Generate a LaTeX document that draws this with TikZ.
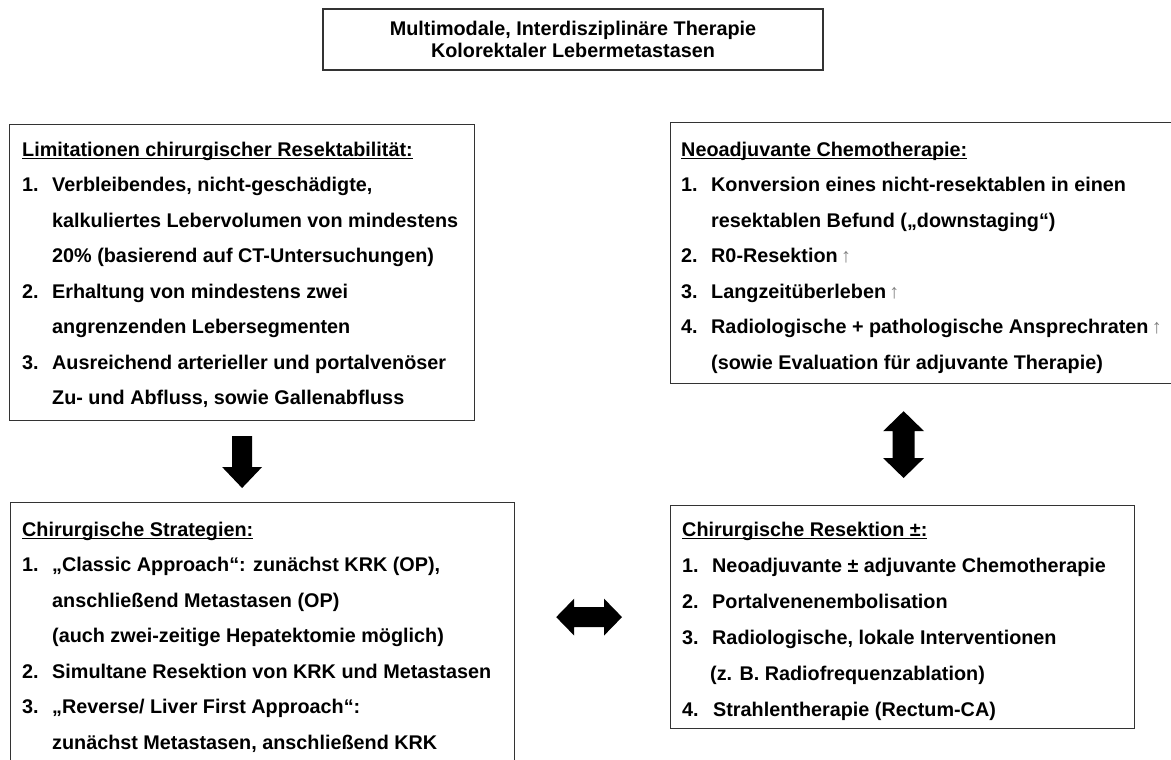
\documentclass[tikz,border=0pt]{standalone}
\usepackage{fontspec}
\setmainfont{Liberation Sans}
\usetikzlibrary{calc}
\newcommand\myul[1]{\setbox0\hbox{#1}\rlap{\rule[-3pt]{\wd0}{1.3pt}}\box0}
\newcommand\numitem[2]{\makebox[30pt][l]{#1}#2}
\newcommand\contitem[1]{\hspace*{30pt}#1}
\newcommand\upar{\,\textcolor{gray}{\mdseries ↑}}
\begin{document}
\begin{tikzpicture}[x=1pt,y=-1pt,
  box/.style={draw=black!80, line width=1.2pt, rectangle, inner sep=0pt, anchor=north west},
  boxtext/.style={anchor=north west, inner sep=0pt, align=left, font=\fontsize{19.8}{35.5}\selectfont\bfseries},
  blockarrow/.style={fill=black}]
\useasboundingbox (0,0) rectangle (1171,760);
\clip (0,0) rectangle (1171,760);

\node[box, anchor=center, minimum width=500, minimum height=61, align=center,
      font=\fontsize{19.8}{22}\selectfont\bfseries] (title) at (573,39.5)
  {Multimodale, Interdisziplinäre Therapie\\Kolorektaler Lebermetastasen};

\node[box, minimum width=465, minimum height=296] (lim) at (9,124) {};
\node[box, minimum width=504, minimum height=261] (neo) at (670,122) {};
\node[box, minimum width=504, minimum height=270] (strat) at (10,502) {};
\node[box, minimum width=464, minimum height=223] (res) at (670,505) {};

\node[boxtext] (limtext) at ($(lim.north west)+(13,16)$) {%
\rule{0pt}{16pt}\myul{Limitationen chirurgischer Resektabilität:}\\
\numitem{1.}{Verbleibendes, nicht-geschädigte,}\\
\contitem{kalkuliertes Lebervolumen von mindestens}\\
\contitem{20\% (basierend auf CT-Untersuchungen)}\\
\numitem{2.}{Erhaltung von mindestens zwei}\\
\contitem{angrenzenden Lebersegmenten}\\
\numitem{3.}{Ausreichend arterieller und portalvenöser}\\
\contitem{Zu- und Abfluss, sowie Gallenabfluss}};

\node[boxtext] (neotext) at ($(neo.north west)+(11,18)$) {%
\rule{0pt}{16pt}\myul{Neoadjuvante Chemotherapie:}\\
\numitem{1.}{Konversion eines nicht-resektablen in einen}\\
\contitem{resektablen Befund („downstaging“)}\\
\numitem{2.}{R0-Resektion\upar}\\
\numitem{3.}{Langzeitüberleben\upar}\\
\numitem{4.}{Radiologische + pathologische Ansprechraten\upar}\\
\contitem{(sowie Evaluation für adjuvante Therapie)}};

\node[boxtext] (strattext) at ($(strat.north west)+(12,18)$) {%
\rule{0pt}{16pt}\myul{Chirurgische Strategien:}\\
\numitem{1.}{„Classic Approach“: zunächst KRK (OP),}\\
\contitem{anschließend Metastasen (OP)}\\
\contitem{(auch zwei-zeitige Hepatektomie möglich)}\\
\numitem{2.}{Simultane Resektion von KRK und Metastasen}\\
\numitem{3.}{„Reverse/ Liver First Approach“:}\\
\contitem{zunächst Metastasen, anschließend KRK}};

\node[boxtext, font=\fontsize{19.8}{36}\selectfont\bfseries] (restext) at ($(res.north west)+(12,15)$) {%
\rule{0pt}{16pt}\myul{Chirurgische Resektion ±:}\\
\numitem{1.}{Neoadjuvante ± adjuvante Chemotherapie}\\
\numitem{2.}{Portalvenenembolisation}\\
\numitem{3.}{Radiologische, lokale Interventionen}\\
\hspace*{28pt}(z. B. Radiofrequenzablation)\\
\makebox[31pt][l]{4.}Strahlentherapie (Rectum-CA)};

% down arrow lim -> strat
\coordinate (dT) at ($(lim.south)+(0,15)$);
\coordinate (dB) at ($(lim.south |- strat.north)+(0,-14)$);
\fill[blockarrow] ($(dT)+(-10,0)$) -- ($(dT)+(10,0)$) -- ($(dB)+(10,-21)$) -- ($(dB)+(20,-21)$)
  -- (dB) -- ($(dB)+(-20,-21)$) -- ($(dB)+(-10,-21)$) -- cycle;

% vertical double arrow neo <-> res
\coordinate (vT) at ($(res.north |- neo.south)+(1,27)$);
\coordinate (vB) at ($(res.north)+(1,-27)$);
\fill[blockarrow] (vT) -- ($(vT)+(20.5,20)$) -- ($(vT)+(11,20)$) -- ($(vB)+(11,-20)$) -- ($(vB)+(20.5,-20)$)
  -- (vB) -- ($(vB)+(-20.5,-20)$) -- ($(vB)+(-11,-20)$) -- ($(vT)+(-11,20)$) -- ($(vT)+(-20.5,20)$) -- cycle;

% horizontal double arrow strat <-> res
\coordinate (hR) at ($(res.west)+(-48,0)$);
\coordinate (hL) at ($(res.west -| strat.east)+(41,0)$);
\fill[blockarrow] (hL) -- ($(hL)+(18,-18.5)$) -- ($(hL)+(18,-10)$) -- ($(hR)+(-18,-10)$) -- ($(hR)+(-18,-18.5)$)
  -- (hR) -- ($(hR)+(-18,18.5)$) -- ($(hR)+(-18,10)$) -- ($(hL)+(18,10)$) -- ($(hL)+(18,18.5)$) -- cycle;
\end{tikzpicture}
\end{document}
